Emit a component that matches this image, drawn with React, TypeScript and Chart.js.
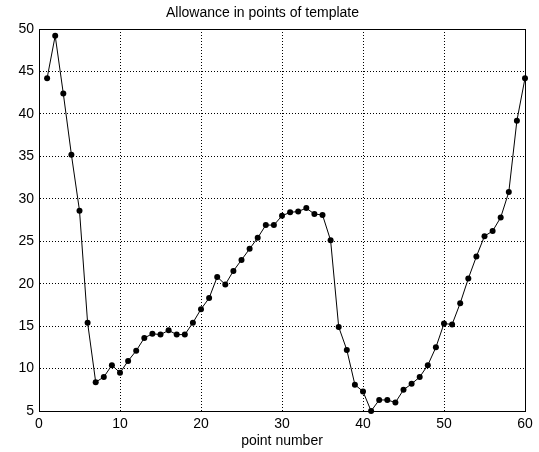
import React, { useEffect, useRef } from "react";
import { Chart, registerables } from "chart.js";

Chart.register(...registerables);

const chartTitle = "Allowance in points of template";
const xAxisLabel = "point number";

const pointNumbers: number[] = Array.from({ length: 60 }, (_, i) => i + 1);

const allowance: number[] = [
  44.2, 49.2, 42.4, 35.2, 28.6, 15.4, 8.4, 9.0, 10.4, 9.5,
  10.9, 12.1, 13.6, 14.1, 14.0, 14.5, 14.0, 14.0, 15.4, 17.0,
  18.3, 20.8, 19.9, 21.5, 22.8, 24.1, 25.4, 26.9, 26.9, 28.0,
  28.4, 28.5, 28.9, 28.2, 28.1, 25.1, 14.9, 12.2, 8.1, 7.3,
  5.0, 6.3, 6.3, 6.0, 7.5, 8.2, 9.0, 10.4, 12.5, 15.3,
  15.2, 17.7, 20.6, 23.2, 25.6, 26.2, 27.8, 30.8, 39.2, 44.2,
];

const xRange = { min: 0, max: 60, step: 10 };
const yRange = { min: 5, max: 50, step: 5 };

const FONT = "'Liberation Sans', Arial, Helvetica, sans-serif";
const FS = 14;

const boxPlugin = {
  id: "plotBox",
  afterDraw(chart: any) {
    const { ctx, chartArea } = chart;
    ctx.save();
    ctx.strokeStyle = "#000";
    ctx.lineWidth = 1;
    ctx.setLineDash([]);
    ctx.strokeRect(
      Math.round(chartArea.left) + 0.5,
      Math.round(chartArea.top) + 0.5,
      Math.round(chartArea.right - chartArea.left),
      Math.round(chartArea.bottom - chartArea.top)
    );
    ctx.restore();
  },
};

export default function App() {
  const canvasRef = useRef<HTMLCanvasElement | null>(null);

  useEffect(() => {
    if (!canvasRef.current) return;
    const data = pointNumbers.map((x, i) => ({ x, y: allowance[i] }));
    const chart = new Chart(canvasRef.current, {
      type: "line",
      data: {
        datasets: [
          {
            data,
            borderColor: "#000",
            backgroundColor: "#000",
            borderWidth: 1,
            pointRadius: 3,
            pointBorderWidth: 0,
            pointBackgroundColor: "#000",
            tension: 0,
            clip: false as any,
          },
        ],
      },
      options: {
        responsive: false,
        animation: false,
        layout: { padding: { left: 0, right: 14, top: 0, bottom: 0 } },
        plugins: {
          legend: { display: false },
          tooltip: { enabled: false },
          title: {
            display: true,
            text: chartTitle,
            color: "#000",
            font: { family: FONT, size: FS, weight: "normal" },
            padding: { top: 4.6, bottom: 7.6 },
          },
        },
        scales: {
          x: {
            type: "linear",
            min: xRange.min,
            max: xRange.max,
            ticks: {
              stepSize: xRange.step,
              color: "#000",
              font: { family: FONT, size: FS },
              padding: 5,
              maxRotation: 0,
            },
            grid: {
              color: "#000",
              lineWidth: 1,
              drawTicks: false,
              tickBorderDash: [1, 2],
            } as any,
            border: { display: true, color: "#000", width: 1, dash: [1, 2] },
            title: {
              display: true,
              text: xAxisLabel,
              color: "#000",
              font: { family: FONT, size: FS },
              padding: { top: 0, bottom: 2.6 },
            },
            afterFit(scale: any) {
              scale.height = 41;
            },
          },
          y: {
            type: "linear",
            min: yRange.min,
            max: yRange.max,
            ticks: {
              stepSize: yRange.step,
              color: "#000",
              font: { family: FONT, size: FS },
              padding: 5,
            },
            grid: {
              color: "#000",
              lineWidth: 1,
              drawTicks: false,
              tickBorderDash: [1, 2],
            } as any,
            border: { display: true, color: "#000", width: 1, dash: [1, 2] },
            afterFit(scale: any) {
              scale.width = 39;
            },
          },
        },
      },
      plugins: [boxPlugin],
    });
    return () => chart.destroy();
  }, []);

  return (
    <div style={{ position: "absolute", left: 0, top: 0, width: 539, height: 452, background: "#fff" }}>
      <canvas ref={canvasRef} width={539} height={452} />
    </div>
  );
}
